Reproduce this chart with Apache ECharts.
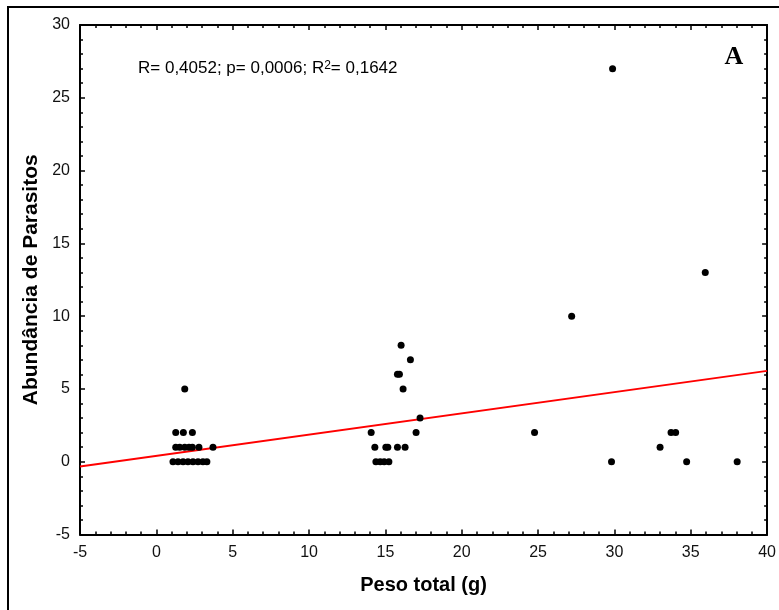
<!DOCTYPE html>
<html>
<head>
<meta charset="utf-8">
<script src="https://cdn.jsdelivr.net/npm/echarts@6/dist/echarts.min.js"></script>
<style>
  html, body { margin: 0; padding: 0; background: #fff; }
  #chart { width: 779px; height: 610px; }
</style>
</head>
<body>
<div id="chart"></div>
<script>
// Peso total (g) of each fish
const pesoTotal = [
  1.86,
  1.27, 1.77, 2.36,
  1.27, 1.53, 1.86, 2.14, 2.36, 2.79, 3.71,
  1.09, 1.42, 1.75, 2.07, 2.40, 2.73, 3.05, 3.31,
  16.03, 16.64, 15.79, 15.92, 16.16, 17.27, 14.07, 17.01,
  14.31, 15.03, 15.16, 15.79, 16.29,
  14.38, 14.66, 14.92, 15.23,
  24.77, 27.20, 29.88, 29.81, 32.99, 33.71, 34.01, 34.73, 38.04, 35.95
];
// Abundância de parasitos for the same fish
const abundancia = [
  5,
  2, 2, 2,
  1, 1, 1, 1, 1, 1, 1,
  0, 0, 0, 0, 0, 0, 0, 0,
  8, 7, 6, 6, 5, 3, 2, 2,
  1, 1, 1, 1, 1,
  0, 0, 0, 0,
  2, 10, 27, 0, 1, 2, 2, 0, 0, 13
];
// Linear fit: abundância = intercept + slope * peso
const fitIntercept = 0.40;
const fitSlope = 0.146;
const fitRange = [-5, 40];

const points = pesoTotal.map((x, i) => [x, abundancia[i]]);
const fitLine = fitRange.map(x => [x, fitIntercept + fitSlope * x]);

const chart = echarts.init(document.getElementById('chart'));
const FONT = '"Liberation Sans", Arial, sans-serif';

const baseAxis = {
  type: 'value',
  interval: 5,
  splitLine: { show: false },
  axisLine: { show: true, onZero: false, lineStyle: { color: '#000', width: 2 } },
  axisTick: { show: true, inside: true, length: 5, lineStyle: { color: '#000', width: 1.5 } },
  minorTick: { show: true, splitNumber: 5, length: 3, lineStyle: { color: '#000', width: 1.5 } },
  axisLabel: { show: true, fontFamily: FONT, fontSize: 16, color: '#111', margin: 10 }
};

chart.setOption({
  animation: false,
  backgroundColor: '#fff',
  grid: { left: 80, top: 25, right: 9, bottom: 75.5 },
  xAxis: [
    Object.assign({}, baseAxis, {
      min: -5, max: 40, position: 'bottom',
      name: 'Peso total (g)', nameLocation: 'middle', nameGap: 41,
      nameTextStyle: { fontFamily: FONT, fontSize: 20, fontWeight: 'bold', color: '#000' }
    }),
    Object.assign({}, baseAxis, {
      min: -5, max: 40, position: 'top',
      axisLabel: { show: false }
    })
  ],
  yAxis: [
    Object.assign({}, baseAxis, {
      min: -5, max: 30, position: 'left',
      name: 'Abundância de Parasitos', nameLocation: 'middle', nameGap: 37,
      nameTextStyle: { fontFamily: FONT, fontSize: 21, fontWeight: 'bold', color: '#000' }
    }),
    Object.assign({}, baseAxis, {
      min: -5, max: 30, position: 'right',
      axisLabel: { show: false }
    })
  ],
  graphic: [
    {
      type: 'rect', z: -1, silent: true,
      shape: { x: 8, y: 7, width: 800, height: 700 },
      style: { fill: null, stroke: '#000', lineWidth: 2 }
    },
    {
      type: 'text', left: 138, top: 60,
      style: {
        text: '{b|R= 0,4052; p= 0,0006; R}{s|2}{b|= 0,1642}',
        rich: {
          b: { fontFamily: FONT, fontSize: 17, color: '#000' },
          s: { fontFamily: FONT, fontSize: 12, color: '#000', verticalAlign: 'top', padding: [0, 0, 4, 0] }
        }
      }
    },
    {
      type: 'text', x: 734, y: 57,
      style: {
        text: 'A', fontFamily: '"Liberation Serif", "Times New Roman", serif',
        fontSize: 26, fontWeight: 'bold', fill: '#000',
        align: 'center', verticalAlign: 'middle'
      }
    }
  ],
  series: [
    {
      type: 'scatter',
      xAxisIndex: 0, yAxisIndex: 0,
      data: points,
      symbol: 'circle', symbolSize: 7,
      itemStyle: { color: '#000', opacity: 1 },
      z: 3
    },
    {
      type: 'line',
      xAxisIndex: 0, yAxisIndex: 0,
      data: fitLine,
      showSymbol: false,
      lineStyle: { color: '#f00', width: 2 },
      z: 2
    }
  ]
});
</script>
</body>
</html>
